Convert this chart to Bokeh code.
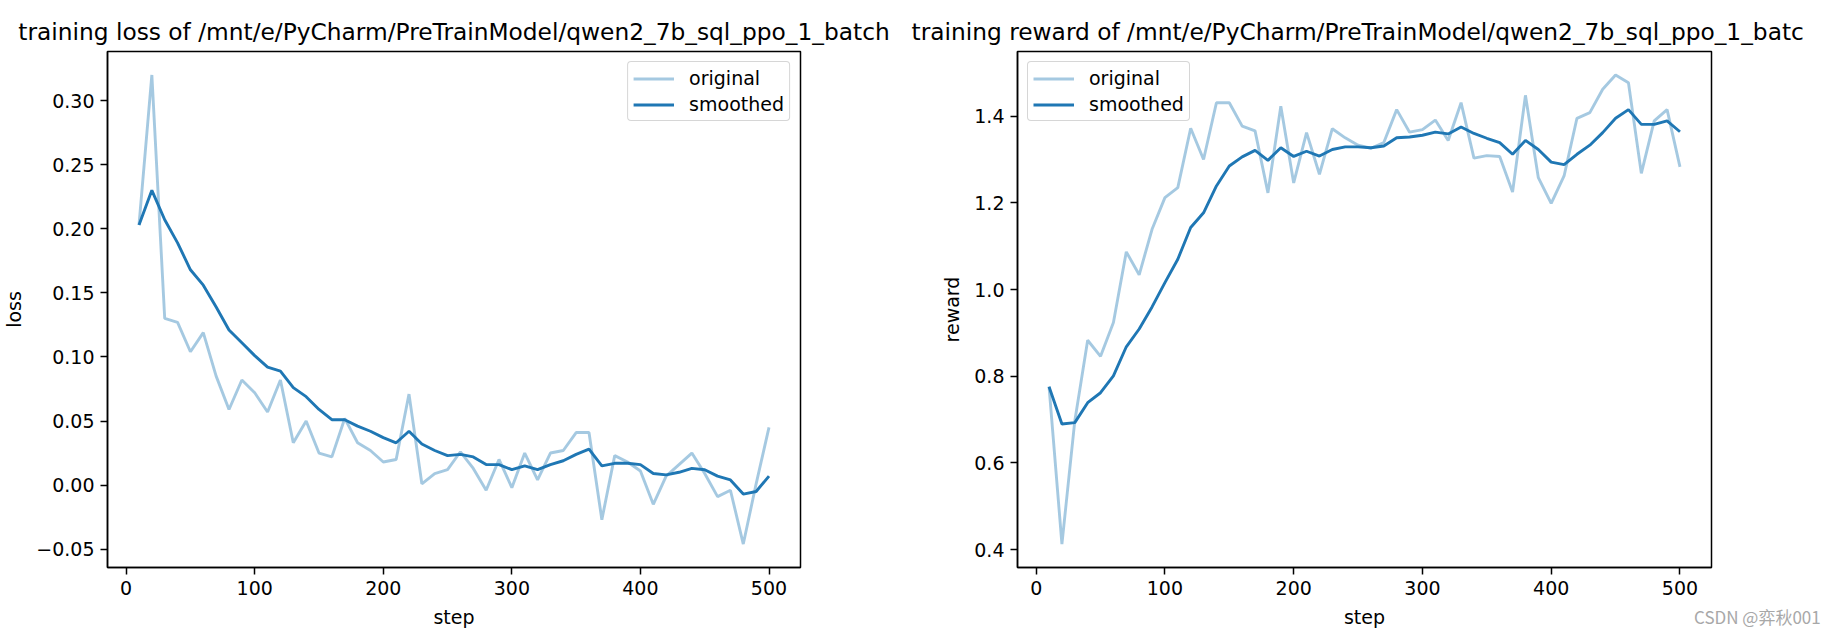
from bokeh.plotting import figure
from bokeh.layouts import row, column
from bokeh.models import Range1d, FixedTicker, Legend, LegendItem, Div
from bokeh.embed import file_html
from bokeh.resources import INLINE

# ---------------- data ----------------
steps = [10, 20, 30, 40, 50, 60, 70, 80, 90, 100,
         110, 120, 130, 140, 150, 160, 170, 180, 190, 200,
         210, 220, 230, 240, 250, 260, 270, 280, 290, 300,
         310, 320, 330, 340, 350, 360, 370, 380, 390, 400,
         410, 420, 430, 440, 450, 460, 470, 480, 490, 500]

loss_original = [0.203, 0.320, 0.130, 0.127, 0.104, 0.119, 0.085, 0.059, 0.082, 0.072,
                 0.057, 0.082, 0.033, 0.050, 0.025, 0.022, 0.052, 0.033, 0.027, 0.018,
                 0.020, 0.071, 0.001, 0.009, 0.012, 0.026, 0.013, -0.004, 0.020, -0.002,
                 0.025, 0.004, 0.025, 0.027, 0.041, 0.041, -0.027, 0.023, 0.018, 0.011,
                 -0.015, 0.007, 0.016, 0.025, 0.009, -0.009, -0.004, -0.046, 0.001, 0.045]

loss_smoothed = [0.203, 0.230, 0.207, 0.189, 0.168, 0.156, 0.139, 0.121, 0.111, 0.101,
                 0.092, 0.089, 0.076, 0.069, 0.059, 0.051, 0.051, 0.046, 0.042, 0.037,
                 0.033, 0.042, 0.032, 0.027, 0.023, 0.024, 0.022, 0.016, 0.016, 0.012,
                 0.015, 0.012, 0.016, 0.019, 0.024, 0.028, 0.015, 0.017, 0.017, 0.016,
                 0.009, 0.008, 0.010, 0.013, 0.012, 0.007, 0.004, -0.007, -0.005, 0.007]

reward_original = [0.776, 0.413, 0.697, 0.883, 0.846, 0.924, 1.087, 1.034, 1.139, 1.212,
                   1.235, 1.372, 1.300, 1.431, 1.431, 1.377, 1.366, 1.223, 1.423, 1.246,
                   1.362, 1.266, 1.371, 1.350, 1.333, 1.326, 1.339, 1.415, 1.363, 1.369,
                   1.391, 1.344, 1.431, 1.303, 1.309, 1.307, 1.225, 1.448, 1.258, 1.199,
                   1.262, 1.395, 1.408, 1.462, 1.495, 1.477, 1.268, 1.389, 1.415, 1.283]

reward_smoothed = [0.776, 0.690, 0.693, 0.739, 0.762, 0.801, 0.868, 0.909, 0.960, 1.016,
                   1.070, 1.143, 1.177, 1.239, 1.285, 1.306, 1.321, 1.298, 1.327, 1.307,
                   1.319, 1.308, 1.323, 1.329, 1.329, 1.327, 1.331, 1.350, 1.352, 1.356,
                   1.363, 1.359, 1.375, 1.360, 1.349, 1.339, 1.312, 1.344, 1.323, 1.294,
                   1.288, 1.312, 1.333, 1.362, 1.395, 1.415, 1.381, 1.381, 1.389, 1.364]

x_ticks = [0, 100, 200, 300, 400, 500]
loss_ticks = [-0.05, 0.0, 0.05, 0.10, 0.15, 0.20, 0.25, 0.30]
loss_tick_labels = ["\u22120.05", "0.00", "0.05", "0.10", "0.15", "0.20", "0.25", "0.30"]
reward_ticks = [0.4, 0.6, 0.8, 1.0, 1.2, 1.4]
reward_tick_labels = ["0.4", "0.6", "0.8", "1.0", "1.2", "1.4"]

loss_title = "training loss of /mnt/e/PyCharm/PreTrainModel/qwen2_7b_sql_ppo_1_batch"
reward_title = "training reward of /mnt/e/PyCharm/PreTrainModel/qwen2_7b_sql_ppo_1_batc"
legend_labels = ["original", "smoothed"]
watermark = "CSDN @\u5f08\u79cb001"

FONT = "DejaVu Sans"
BLUE = "#1f77b4"


def padded(vals):
    lo, hi = min(vals), max(vals)
    m = 0.05 * (hi - lo)
    return lo - m, hi + m


def make_plot(title, ylabel, y_orig, y_smooth, yticks, ylabels, legend_loc,
              title_align, title_offset):
    xlo, xhi = padded(steps)
    ylo, yhi = padded(y_orig + y_smooth)
    p = figure(width=911, height=635, output_backend="svg", toolbar_location=None,
               tools="", x_range=Range1d(xlo, xhi), y_range=Range1d(ylo, yhi),
               min_border_left=106, min_border_right=111,
               min_border_top=51, min_border_bottom=68)
    p.background_fill_color = "white"
    p.border_fill_color = "white"
    p.outline_line_color = "black"
    p.outline_line_width = 1.5
    p.outline_line_alpha = 1.0
    p.grid.visible = False

    r1 = p.line(steps, y_orig, line_color=BLUE, line_alpha=0.4, line_width=2.9)
    r2 = p.line(steps, y_smooth, line_color=BLUE, line_alpha=1.0, line_width=2.9)

    p.title.text = title
    p.title.text_font = FONT
    p.title.text_font_size = "23.3px"
    p.title.text_font_style = "normal"
    p.title.text_color = "black"
    p.title.align = title_align
    p.title.offset = title_offset
    p.title.standoff = 14

    p.xaxis.ticker = FixedTicker(ticks=x_ticks)
    p.yaxis.ticker = FixedTicker(ticks=yticks)
    p.yaxis.major_label_overrides = dict(zip(yticks, ylabels))
    p.xaxis.axis_label = "step"
    p.yaxis.axis_label = ylabel
    for ax in (p.xaxis[0], p.yaxis[0]):
        ax.axis_line_color = "black"
        ax.axis_line_width = 1.5
        ax.major_tick_line_color = "black"
        ax.major_tick_line_width = 1.5
        ax.major_tick_out = 7
        ax.major_tick_in = 0
        ax.minor_tick_line_color = None
        ax.minor_tick_out = 0
        ax.minor_tick_in = 0
        ax.major_label_text_font = FONT
        ax.major_label_text_font_size = "19px"
        ax.major_label_text_color = "black"
        ax.major_label_standoff = 6
        ax.axis_label_text_font = FONT
        ax.axis_label_text_font_size = "19px"
        ax.axis_label_text_font_style = "normal"
        ax.axis_label_text_color = "black"
        ax.axis_label_standoff = 8

    legend = Legend(items=[LegendItem(label=legend_labels[0], renderers=[r1]),
                           LegendItem(label=legend_labels[1], renderers=[r2])],
                    location=legend_loc)
    legend.label_text_font = FONT
    legend.label_text_font_size = "19px"
    legend.label_text_color = "black"
    legend.glyph_width = 41
    legend.glyph_height = 21
    legend.label_height = 21
    legend.label_standoff = 15
    legend.spacing = 4
    legend.padding = 5
    legend.margin = 10
    legend.border_line_color = "#cccccc"
    legend.border_line_width = 1.5
    legend.border_line_alpha = 0.8
    legend.background_fill_color = "white"
    legend.background_fill_alpha = 0.8
    if "border_radius" in Legend.properties():
        legend.border_radius = 4
    p.add_layout(legend)
    return p


p1 = make_plot(loss_title, "loss", loss_original, loss_smoothed, loss_ticks,
               loss_tick_labels, "top_right", "center", 0)
p2 = make_plot(reward_title, "reward", reward_original, reward_smoothed, reward_ticks,
               reward_tick_labels, "top_left", "left", -106)

# watermark as real text, overlapping the bottom-right corner of the page
wm = Div(text=watermark, width=122, height=22, margin=(-29, 0, 0, 1694),
         styles={"font-family": "'Noto Sans CJK SC'", "font-size": "17px",
                 "color": "#a8a8a8", "white-space": "nowrap",
                 "line-height": "22px", "z-index": "10"})

layout = column(row(p1, p2, spacing=0), wm, spacing=0)
open("out.html", "w").write(file_html(layout, INLINE))
